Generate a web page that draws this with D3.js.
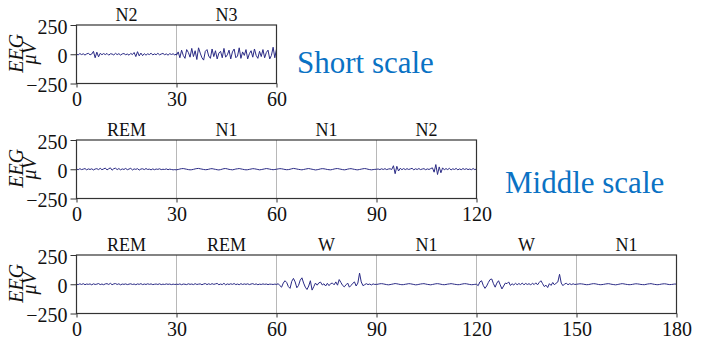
<!DOCTYPE html>
<html><head><meta charset="utf-8">
<script src="https://cdn.jsdelivr.net/npm/d3@7"></script>
<style>
body{margin:0;background:#fff}
svg{display:block}
</style>
</head><body>
<svg id="c" width="702" height="353"></svg>
<script>
// ---- data (µV, each epoch = 30 s, samples evenly spread across the epoch) ----
const shortN2 = [0,-5,6,-3,4,-7,3,8,-5,2,25,-30,18,-22,8,-4,6,-3,7,-8,4,2,-6,8,-3,5,-7,3,6,-4,2,-8,7,-3,15,-20,22,-14,10,-12,5,-8,4,-3,9,-6,3,-4,8,-5,2,7,-4,3,-8,5,-2,4,-6,3];
const shortN3 = [-8,20,-30,35,-10,-35,40,15,-25,50,-20,30,-45,55,10,-30,-50,25,40,-15,-35,45,-20,30,-40,10,25,-30,50,-25,-5,35,-40,20,45,-30,-15,55,-35,20,-10,40,-40,5,30,-25,45,-10,-35,25,-20,40,-30,15,35,-40,-10,60,-30,45];

const midREM = [2,-4,5,-3,1,6,-5,3,-2,4,-6,2,5,-3,8,-4,3,10,-6,4,12,-8,5,9,-3,6,-5,3,-2,7,-4,2,8,-6,3,-1,5,-7,2,4,-3,6,-2,1,-5,3,-4,2,-1,4,-3,0,-2,3,-4,1,-2,-5,-3,-6];
const midN1a = [-4,-2,2,5,6,3,0,-3,-5,-4,-1,3,6,7,4,1,-2,-4,-3,0,4,5,2,-1,-4,-6,-3,1,5,6,3,-1,-3,-5,-2,2,4,6,3,0,-3,-5,-4,-1,2,5,4,1,-2,-5,-3,0,3,6,4,1,-2,-4,-2,0];
const midN1b = [0,3,5,4,1,-2,-4,-3,0,4,7,5,2,-1,-3,-5,-2,1,4,6,3,0,-3,-6,-4,-1,3,5,4,1,-2,-4,-5,-2,2,5,6,3,0,-3,-5,-3,1,4,5,2,-1,-4,-5,-2,1,4,6,4,0,-3,-5,-3,-1,0];
const midN2 = [0,2,-3,4,-2,5,-3,2,4,-2,30,-38,25,-15,8,-4,6,-3,5,-2,3,8,-5,4,-2,6,-3,2,5,-4,3,-2,6,12,-25,40,-45,20,-30,12,-5,6,-3,8,-6,4,-2,7,-5,3,-4,6,-2,5,-3,2,-4,6,-3,2];

const longREM1 = [0,-3,4,-2,5,-4,2,-1,3,-5,4,-2,1,6,-3,2,-4,3,5,-2,8,-4,3,6,-2,4,-5,2,-1,3,-3,1,4,-2,2,-4,3,-1,5,-3,2,-2,4,-1,3,-3,0,2,-2,4,-3,1,-2,3,-1,2,-3,1,-2,0];
const longREM2 = [1,-2,3,-4,2,0,-3,4,-1,2,-3,5,-2,1,3,-4,2,6,-3,4,-2,5,-1,3,7,-4,2,-3,8,-5,3,-2,4,-1,6,-3,2,-4,5,-2,3,-1,4,-3,2,5,-2,3,-4,1,-2,3,-1,2,-3,1,0,-2,1,-1];
const longW1 = [-3,5,-12,-25,10,30,15,-20,-35,25,50,20,-30,-10,35,55,10,-25,-45,-15,30,-50,-20,10,-8,12,18,-6,4,-15,8,-12,6,10,-5,20,-8,40,15,-10,-22,-5,10,-25,-10,8,20,-15,10,95,20,-12,-4,5,-3,2,-6,3,-2,0];
const longN1a = [-2,1,4,5,3,0,-3,-5,-3,0,3,6,4,1,-2,-4,-3,0,2,5,4,1,-2,-5,-4,-1,2,4,5,2,-1,-3,-5,-2,1,4,5,3,0,-3,-4,-2,1,3,5,3,0,-2,-4,-3,0,3,5,4,1,-2,-4,-3,-1,0];
const longW2 = [0,-12,20,30,-10,-35,-15,15,40,45,5,-25,10,30,-5,-40,-15,10,5,20,-10,4,-6,8,-4,6,-3,10,-5,7,-2,5,-6,9,-3,12,-5,15,30,5,-20,-8,-28,5,-10,15,-5,10,20,85,10,-12,3,8,-4,5,-3,4,-2,0];
const longN1b = [0,2,4,3,1,-2,-4,-3,0,3,5,4,1,-2,-4,-3,-1,2,4,5,2,-1,-3,-5,-3,0,3,5,3,0,-2,-4,-3,-1,2,4,3,1,-2,-3,-4,-1,2,4,5,2,-1,-3,-4,-2,1,3,4,2,-1,-3,-2,0,2,1];

const shortStages = ["N2","N3"];
const midStages = ["REM","N1","N1","N2"];
const longStages = ["REM","REM","W","N1","W","N1"];

const shortTicks = [0,30,60];
const midTicks = [0,30,60,90,120];
const longTicks = [0,30,60,90,120,150,180];
const yTicks = [-250,0,250];
const epochLen = 30;

const panels = [
  {epochs:[shortN2, shortN3], stages:shortStages, ticks:shortTicks},
  {epochs:[midREM, midN1a, midN1b, midN2], stages:midStages, ticks:midTicks},
  {epochs:[longREM1, longREM2, longW1, longN1a, longW2, longN1b], stages:longStages, ticks:longTicks}
];

// ---- layout ----
const SERIF = '"Liberation Serif","Times New Roman",serif';
const panelTops = [25, 140, 255];
const left = 76.5, pxPerSec = 100/30, plotH = 58.5;
const svg = d3.select("#c");

panels.forEach((p, k) => {
  const top = panelTops[k];
  const dur = p.ticks[p.ticks.length-1];
  const x = d3.scaleLinear().domain([0, dur]).range([left, left + dur*pxPerSec]);
  const y = d3.scaleLinear().domain([-250, 250]).range([top + plotH, top]);
  const g = svg.append("g");

  // gridlines
  g.selectAll("line.grid").data(p.ticks.slice(1, -1)).join("line")
    .attr("x1", d => x(d)).attr("x2", d => x(d))
    .attr("y1", top).attr("y2", top + plotH)
    .attr("stroke", "#b8b8b8").attr("stroke-width", 1);

  // signal
  const pts = [];
  p.epochs.forEach((arr, e) => {
    const n = arr.length;
    arr.forEach((v, i) => pts.push([e*epochLen + i*epochLen/(n-1), v]));
  });
  g.append("path")
    .attr("d", d3.line().x(d => x(d[0])).y(d => y(d[1]))(pts))
    .attr("fill", "none").attr("stroke", "#2a2a85").attr("stroke-width", 1)
    .attr("stroke-linejoin", "round");

  // frame
  g.append("rect").attr("x", x(0)).attr("y", top)
    .attr("width", x(dur) - x(0)).attr("height", plotH)
    .attr("fill", "none").attr("stroke", "#333").attr("stroke-width", 1.2);

  // x axis
  const xa = g.append("g").attr("transform", `translate(0,${top + plotH})`)
    .call(d3.axisBottom(x).tickValues(p.ticks).tickSize(4).tickPadding(4).tickFormat(d3.format("d")));
  xa.select(".domain").remove();
  xa.selectAll("line").attr("stroke", "#333");
  xa.selectAll("text").style("font-size", "20px").style("font-family", SERIF).style("fill", "#111");

  // y axis
  const ya = g.append("g").attr("transform", `translate(${left},0)`)
    .call(d3.axisLeft(y).tickValues(yTicks).tickSize(6).tickPadding(3).tickFormat(d3.format("d")));
  ya.select(".domain").remove();
  ya.selectAll("line").attr("stroke", "#333");
  ya.selectAll("text").attr("dy", "0.4em").style("font-size", "20px").style("font-family", SERIF).style("fill", "#111");

  // stage labels
  g.selectAll("text.stage").data(p.stages).join("text")
    .attr("class", "stage")
    .attr("x", (d, i) => x(i*epochLen + epochLen/2))
    .attr("y", top - 4)
    .attr("text-anchor", "middle")
    .style("font-size", "18px").style("font-family", SERIF).style("fill", "#111")
    .text(d => d);

  // y label
  const cy = top + plotH/2 - 1;
  g.append("text").attr("transform", `translate(22.5,${cy}) rotate(-90)`)
    .attr("text-anchor", "middle")
    .style("font-size", "20px").style("font-style", "italic").style("font-family", SERIF).style("fill", "#111")
    .text("EEG");
  g.append("text").attr("transform", `translate(36,${cy}) rotate(-90)`)
    .attr("text-anchor", "middle")
    .style("font-size", "20px").style("font-style", "italic").style("font-family", SERIF).style("fill", "#111")
    .text("μV");
});

svg.append("text").attr("x", 297).attr("y", 73)
  .style("font-size", "31px").style("font-family", SERIF).style("fill", "#0a72c4").text("Short scale");
svg.append("text").attr("x", 505).attr("y", 193)
  .style("font-size", "31px").style("font-family", SERIF).style("fill", "#0a72c4").text("Middle scale");
</script>
</body></html>
